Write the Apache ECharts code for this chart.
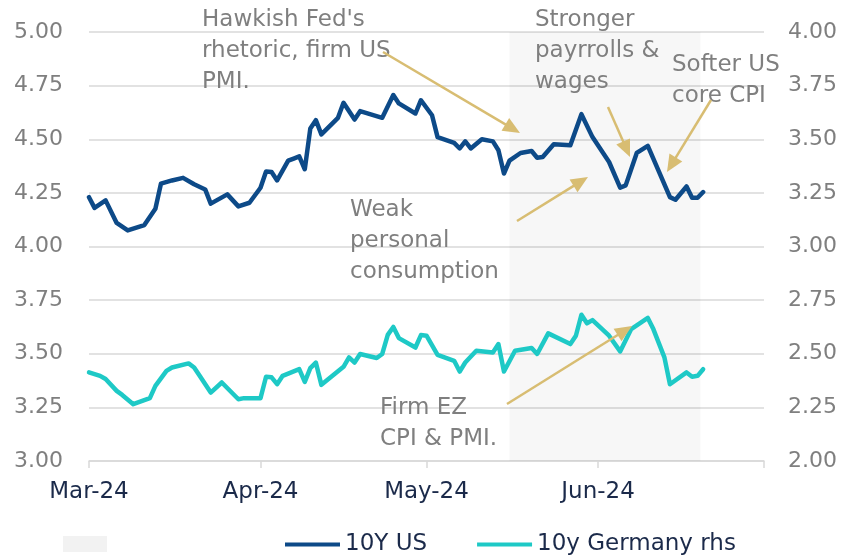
<!DOCTYPE html>
<html lang="en">
<head>
    <meta charset="utf-8" />
    <title>10Y US vs 10y Germany</title>
    <script src="https://cdn.jsdelivr.net/npm/echarts@6/dist/echarts.min.js"></script>
    <style>
        body {
            margin: 0;
            padding: 0;
            background: #fff;
        }

        #main {
            width: 844px;
            height: 555px;
        }
    </style>
</head>
<body>
<div id="main"></div>
<script type="text/javascript">
    // Chart data
    const usDates = [
        '2024-03-01', '2024-03-02', '2024-03-04', '2024-03-06', '2024-03-08', '2024-03-11', '2024-03-13',
        '2024-03-14', '2024-03-16', '2024-03-18', '2024-03-20', '2024-03-22', '2024-03-23', '2024-03-26',
        '2024-03-28', '2024-03-30', '2024-04-01', '2024-04-02', '2024-04-03', '2024-04-04', '2024-04-06',
        '2024-04-07', '2024-04-08', '2024-04-09', '2024-04-10', '2024-04-11', '2024-04-12', '2024-04-15',
        '2024-04-16', '2024-04-18', '2024-04-19', '2024-04-23', '2024-04-25', '2024-04-26', '2024-04-29',
        '2024-04-30', '2024-05-02', '2024-05-03', '2024-05-06', '2024-05-07', '2024-05-08', '2024-05-09',
        '2024-05-11', '2024-05-13', '2024-05-14', '2024-05-15', '2024-05-16', '2024-05-18', '2024-05-20',
        '2024-05-21', '2024-05-22', '2024-05-24', '2024-05-27', '2024-05-29', '2024-05-31', '2024-06-03',
        '2024-06-05', '2024-06-06', '2024-06-08', '2024-06-10', '2024-06-14', '2024-06-15', '2024-06-17',
        '2024-06-18', '2024-06-19', '2024-06-20'
    ];
    const usValues = [
        4.23, 4.18, 4.215, 4.11, 4.075, 4.10, 4.176,
        4.293, 4.308, 4.32, 4.29, 4.266, 4.20, 4.243,
        4.187, 4.204, 4.274, 4.35, 4.347, 4.308, 4.40,
        4.41, 4.42, 4.36, 4.55, 4.589, 4.523, 4.60,
        4.67, 4.592, 4.631, 4.60, 4.706, 4.667, 4.62,
        4.682, 4.612, 4.51, 4.483, 4.457, 4.49, 4.457,
        4.50, 4.49, 4.449, 4.34, 4.40, 4.436, 4.445,
        4.414, 4.417, 4.477, 4.472, 4.617, 4.51, 4.394,
        4.274, 4.285, 4.436, 4.469, 4.23, 4.218, 4.28,
        4.227, 4.227, 4.254
    ];
    const deDates = [
        '2024-03-01', '2024-03-03', '2024-03-04', '2024-03-06', '2024-03-07', '2024-03-09', '2024-03-12',
        '2024-03-13', '2024-03-15', '2024-03-16', '2024-03-19', '2024-03-20', '2024-03-21', '2024-03-23',
        '2024-03-25', '2024-03-28', '2024-03-29', '2024-04-01', '2024-04-02', '2024-04-03', '2024-04-04',
        '2024-04-05', '2024-04-08', '2024-04-09', '2024-04-10', '2024-04-11', '2024-04-12', '2024-04-16',
        '2024-04-17', '2024-04-18', '2024-04-19', '2024-04-22', '2024-04-23', '2024-04-24', '2024-04-25',
        '2024-04-26', '2024-04-29', '2024-04-30', '2024-05-01', '2024-05-03', '2024-05-06', '2024-05-07',
        '2024-05-08', '2024-05-10', '2024-05-13', '2024-05-14', '2024-05-15', '2024-05-17', '2024-05-20',
        '2024-05-21', '2024-05-23', '2024-05-27', '2024-05-28', '2024-05-29', '2024-05-30', '2024-05-31',
        '2024-06-03', '2024-06-05', '2024-06-07', '2024-06-10', '2024-06-11', '2024-06-13', '2024-06-14',
        '2024-06-17', '2024-06-18', '2024-06-19', '2024-06-20'
    ];
    const deValues = [
        2.413, 2.397, 2.382, 2.327, 2.308, 2.265, 2.293,
        2.35, 2.42, 2.436, 2.455, 2.436, 2.397, 2.319,
        2.366, 2.288, 2.293, 2.293, 2.393, 2.39, 2.358,
        2.397, 2.428, 2.369, 2.433, 2.459, 2.355, 2.439,
        2.483, 2.459, 2.499, 2.48, 2.499, 2.588, 2.625,
        2.573, 2.529, 2.587, 2.584, 2.495, 2.467, 2.417,
        2.459, 2.514, 2.506, 2.545, 2.417, 2.514, 2.527,
        2.499, 2.595, 2.545, 2.584, 2.682, 2.642, 2.657,
        2.584, 2.511, 2.615, 2.667, 2.615, 2.483, 2.358,
        2.413, 2.393, 2.397, 2.428
    ];
    const shadeRange = ['2024-05-16', '2024-06-19 12:00'];
    const xRange = ['2024-03-01', '2024-07-01'];
    const monthLabels = ['Mar-24', 'Apr-24', 'May-24', 'Jun-24'];
    const leftAxis = {min: 3, max: 5, step: 0.25};
    const rightAxis = {min: 2, max: 4, step: 0.25};
    const seriesNames = ['10Y US', '10y Germany rhs'];

    // Styling
    const FONT = '"DejaVu Sans", sans-serif';
    const GREY_TEXT = '#7f7f7f';
    const NAVY_TEXT = '#1b2a4a';
    const GRID = '#d9d9d9';
    const ARROW = '#d8bd72';

    // Annotation texts and arrows (layout in pixels)
    const notes = [
        {text: "Hawkish Fed's\nrhetoric, firm US\nPMI.", x: 202, y: 5},
        {text: 'Stronger\npayrrolls &\nwages', x: 535, y: 5},
        {text: 'Softer US\ncore CPI', x: 672, y: 50},
        {text: 'Weak\npersonal\nconsumption', x: 350, y: 195},
        {text: 'Firm EZ\nCPI & PMI.', x: 380, y: 393}
    ];
    const arrows = [
        [[383, 52], [520, 133]],
        [[517, 221], [588, 177]],
        [[608, 107], [630, 157]],
        [[711, 100], [667, 172]],
        [[507, 404], [632, 326]]
    ];

    const makeArrow = (from, to) => {
        const dx = to[0] - from[0], dy = to[1] - from[1];
        const len = Math.sqrt(dx * dx + dy * dy);
        const ux = dx / len, uy = dy / len;
        const headLen = 17, headHalf = 7.5;
        const bx = to[0] - ux * headLen, by = to[1] - uy * headLen;
        return [
            {
                type: 'line',
                z: 50,
                shape: {x1: from[0], y1: from[1], x2: bx + ux * 2, y2: by + uy * 2},
                style: {stroke: ARROW, lineWidth: 2.5}
            },
            {
                type: 'polygon',
                z: 50,
                shape: {
                    points: [
                        to,
                        [bx - uy * headHalf, by + ux * headHalf],
                        [bx + uy * headHalf, by - ux * headHalf]
                    ]
                },
                style: {fill: ARROW}
            }
        ];
    };

    const graphics = [];
    notes.forEach(n => {
        graphics.push({
            type: 'text',
            z: 40,
            x: n.x,
            y: n.y,
            style: {
                text: n.text,
                fill: GREY_TEXT,
                fontSize: 23,
                fontFamily: FONT,
                lineHeight: 31
            }
        });
    });
    arrows.forEach(a => graphics.push(...makeArrow(a[0], a[1])));

    const myChart = echarts.init(document.getElementById('main'));

    const option = {
        backgroundColor: '#ffffff',
        animation: false,
        grid: {left: 89, right: 80, top: 32, bottom: 94},
        legend: [
            {
                left: 63,
                top: 536,
                padding: 0,
                itemWidth: 44,
                itemHeight: 16,
                selectedMode: false,
                data: [{name: 'shade', icon: 'rect'}],
                formatter: () => '',
                textStyle: {fontSize: 1}
            },
            {
                left: 285,
                top: 533,
                padding: 0,
                itemWidth: 55,
                itemHeight: 4,
                itemGap: 50,
                selectedMode: false,
                data: [
                    {name: seriesNames[0], icon: 'rect'},
                    {name: seriesNames[1], icon: 'rect'}
                ],
                textStyle: {color: NAVY_TEXT, fontSize: 23, fontFamily: FONT}
            }
        ],
        xAxis: {
            type: 'time',
            min: xRange[0],
            max: xRange[1],
            splitNumber: 4,
            minInterval: 28 * 24 * 3600 * 1000,
            axisLine: {lineStyle: {color: GRID, width: 1.5}},
            axisTick: {show: true, length: 7, lineStyle: {color: GRID, width: 1.5}},
            splitLine: {show: false},
            axisLabel: {
                color: NAVY_TEXT,
                fontSize: 23,
                fontFamily: FONT,
                margin: 20,
                showMinLabel: true,
                showMaxLabel: true,
                hideOverlap: false,
                formatter: (value) => {
                    const d = new Date(value);
                    return monthLabels[d.getMonth() - 2] || '';
                }
            }
        },
        yAxis: [
            {
                type: 'value',
                min: leftAxis.min,
                max: leftAxis.max,
                interval: leftAxis.step,
                axisLine: {show: false},
                axisTick: {show: false},
                splitLine: {show: true, lineStyle: {color: GRID, width: 1.5}},
                axisLabel: {
                    color: GREY_TEXT,
                    fontSize: 22,
                    fontFamily: FONT,
                    margin: 26,
                    formatter: v => v.toFixed(2)
                }
            },
            {
                type: 'value',
                min: rightAxis.min,
                max: rightAxis.max,
                interval: rightAxis.step,
                axisLine: {show: false},
                axisTick: {show: false},
                splitLine: {show: false},
                axisLabel: {
                    color: GREY_TEXT,
                    fontSize: 22,
                    fontFamily: FONT,
                    margin: 24,
                    formatter: v => v.toFixed(2)
                }
            }
        ],
        series: [
            {
                name: 'shade',
                type: 'line',
                data: [],
                color: '#f2f2f2',
                markArea: {
                    silent: true,
                    itemStyle: {color: 'rgba(0,0,0,0.03)'},
                    data: [[{xAxis: shadeRange[0]}, {xAxis: shadeRange[1]}]]
                }
            },
            {
                name: seriesNames[0],
                type: 'line',
                yAxisIndex: 0,
                color: '#0d4a88',
                showSymbol: false,
                lineStyle: {width: 4.5, join: 'round', cap: 'round'},
                data: usDates.map((d, i) => [d, usValues[i]])
            },
            {
                name: seriesNames[1],
                type: 'line',
                yAxisIndex: 1,
                color: '#1ec9c6',
                showSymbol: false,
                lineStyle: {width: 4.5, join: 'round', cap: 'round'},
                data: deDates.map((d, i) => [d, deValues[i]])
            }
        ],
        graphic: graphics
    };

    myChart.setOption(option);
</script>
</body>
</html>
